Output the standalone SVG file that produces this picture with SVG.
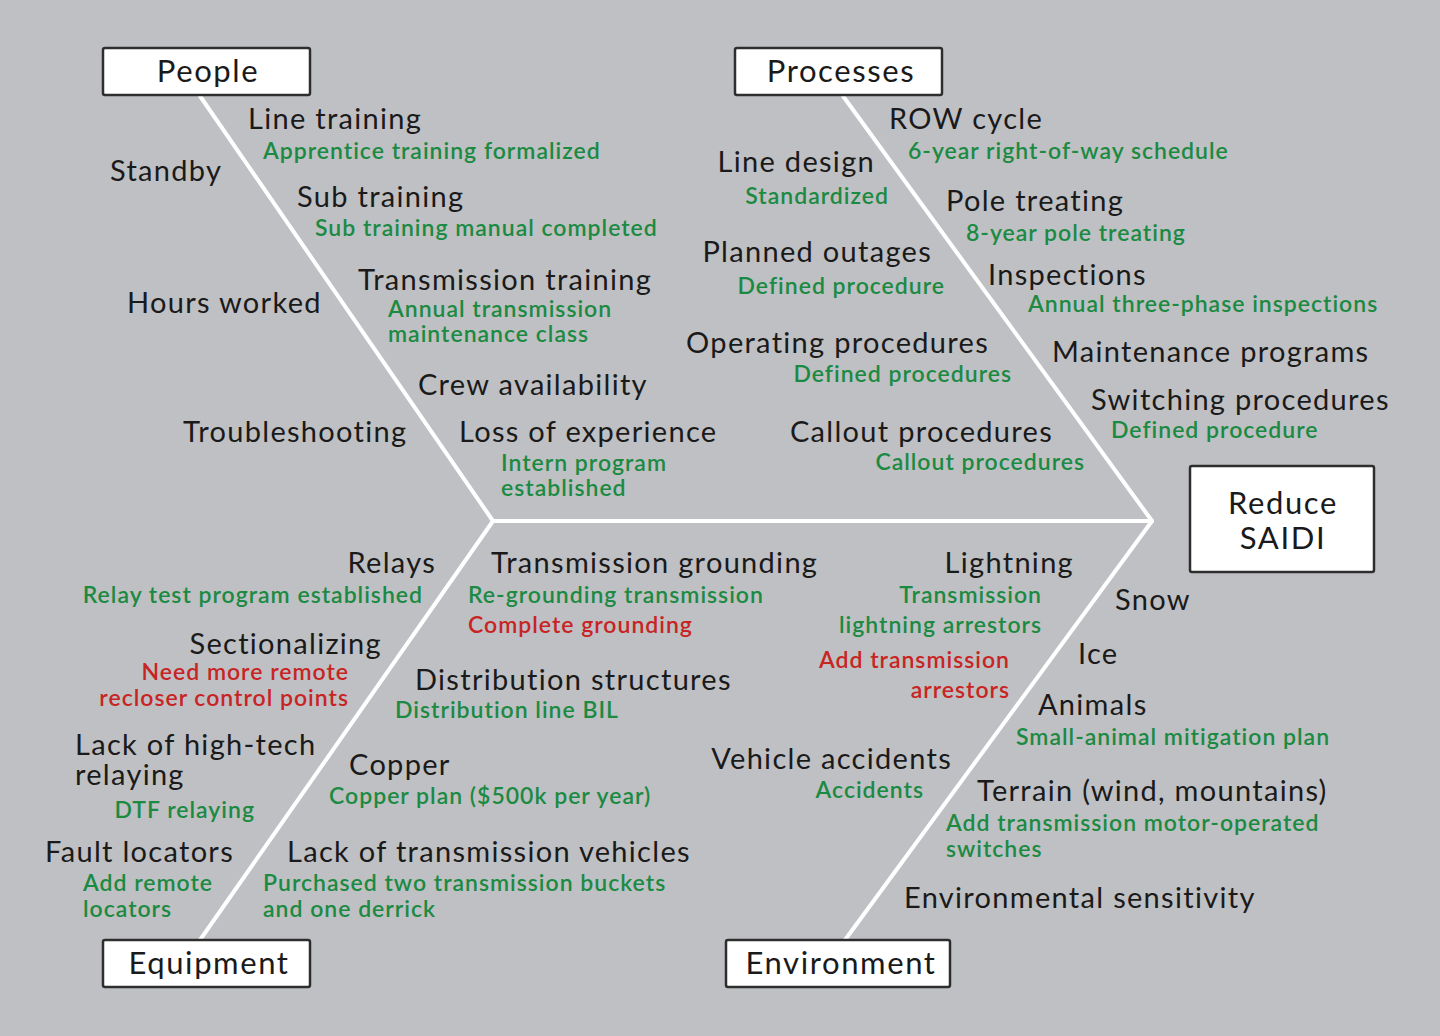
<svg xmlns="http://www.w3.org/2000/svg" width="1440" height="1036" viewBox="0 0 1440 1036">
<style>
.bg{fill:#bfc0c3}
.box{fill:#ffffff;stroke:#2e2e2e;stroke-width:2.5}
.bone{stroke:#ffffff;stroke-width:4;fill:none;stroke-linecap:round}
text{font-family:Lato,"Noto Sans",sans-serif}
.t{font-size:29px;fill:#1a1a1a;letter-spacing:1.3px}
.h{font-size:31px;fill:#1a1a1a;text-anchor:middle;letter-spacing:1.6px}
.g{font-size:23px;fill:#1b8a42;font-weight:600;letter-spacing:1px}
.r{font-size:23px;fill:#c82424;font-weight:600;letter-spacing:1px}
.e{text-anchor:end}
</style>
<rect class="bg" x="0" y="0" width="1440" height="1036"/>
<g id="connectors">
<line class="bone" x1="493" y1="521" x2="1152" y2="521"/>
<line class="bone" x1="200" y1="96" x2="493" y2="521"/>
<line class="bone" x1="843" y1="96" x2="1152" y2="521"/>
<line class="bone" x1="200" y1="940" x2="493" y2="521"/>
<line class="bone" x1="845" y1="940" x2="1152" y2="521"/>
</g>
<g id="people">
<rect class="box" x="103" y="48" width="207" height="47" rx="2"/>
<text class="h" x="208" y="82">People</text>
</g>
<g id="processes">
<rect class="box" x="735" y="48" width="207" height="47" rx="2"/>
<text class="h" x="841" y="82">Processes</text>
</g>
<g id="equipment">
<rect class="box" x="103" y="940" width="207" height="47" rx="2"/>
<text class="h" x="209" y="974">Equipment</text>
</g>
<g id="environment">
<rect class="box" x="726" y="940" width="224" height="47" rx="2"/>
<text class="h" x="841" y="974">Environment</text>
</g>
<g id="reduce-saidi">
<rect class="box" x="1190" y="466" width="184" height="106" rx="2"/>
<text class="h" x="1283" y="514">Reduce</text>
<text class="h" x="1283" y="549">SAIDI</text>
</g>
<g id="people-causes">
<text class="t" x="248" y="129">Line training</text>
<text class="g" x="263" y="159">Apprentice training formalized</text>
<text class="t" x="110" y="181">Standby</text>
<text class="t" x="297" y="207">Sub training</text>
<text class="g" x="315" y="236">Sub training manual completed</text>
<text class="t" x="127" y="313">Hours worked</text>
<text class="t" x="358" y="290">Transmission training</text>
<text class="g" x="388" y="317">Annual transmission</text>
<text class="g" x="388" y="342">maintenance class</text>
<text class="t" x="418" y="395">Crew availability</text>
<text class="t" x="183" y="442">Troubleshooting</text>
<text class="t" x="459" y="442">Loss of experience</text>
<text class="g" x="501" y="471">Intern program</text>
<text class="g" x="501" y="496">established</text>
</g>
<g id="process-causes">
<text class="t" x="889" y="129">ROW cycle</text>
<text class="g" x="908" y="159">6-year right-of-way schedule</text>
<text class="t e" x="875" y="172">Line design</text>
<text class="g e" x="889" y="204">Standardized</text>
<text class="t" x="946" y="211">Pole treating</text>
<text class="g" x="966" y="241">8-year pole treating</text>
<text class="t e" x="932" y="262">Planned outages</text>
<text class="g e" x="945" y="294">Defined procedure</text>
<text class="t" x="988" y="285">Inspections</text>
<text class="g" x="1028" y="312">Annual three-phase inspections</text>
<text class="t e" x="989" y="353">Operating procedures</text>
<text class="g e" x="1012" y="382">Defined procedures</text>
<text class="t" x="1052" y="362">Maintenance programs</text>
<text class="t" x="1091" y="410">Switching procedures</text>
<text class="g" x="1111" y="438">Defined procedure</text>
<text class="t e" x="1053" y="442">Callout procedures</text>
<text class="g e" x="1085" y="470">Callout procedures</text>
</g>
<g id="equipment-causes">
<text class="t e" x="436" y="573">Relays</text>
<text class="g e" x="423" y="603">Relay test program established</text>
<text class="t e" x="382" y="654">Sectionalizing</text>
<text class="r e" x="349" y="680">Need more remote</text>
<text class="r e" x="349" y="706">recloser control points</text>
<text class="t" x="75" y="755">Lack of high-tech</text>
<text class="t" x="75" y="785">relaying</text>
<text class="g e" x="255" y="818">DTF relaying</text>
<text class="t e" x="234" y="862">Fault locators</text>
<text class="g" x="83" y="891">Add remote</text>
<text class="g" x="83" y="917">locators</text>
<text class="t" x="491" y="573">Transmission grounding</text>
<text class="g" x="468" y="603">Re-grounding transmission</text>
<text class="r" x="468" y="633">Complete grounding</text>
<text class="t" x="415" y="690">Distribution structures</text>
<text class="g" x="395" y="718">Distribution line BIL</text>
<text class="t" x="349" y="775">Copper</text>
<text class="g" x="329" y="804">Copper plan ($500k per year)</text>
<text class="t" x="287" y="862">Lack of transmission vehicles</text>
<text class="g" x="263" y="891">Purchased two transmission buckets</text>
<text class="g" x="263" y="917">and one derrick</text>
</g>
<g id="environment-causes">
<text class="t e" x="1074" y="573">Lightning</text>
<text class="g e" x="1042" y="603">Transmission</text>
<text class="g e" x="1042" y="633">lightning arrestors</text>
<text class="r e" x="1010" y="668">Add transmission</text>
<text class="r e" x="1010" y="698">arrestors</text>
<text class="t" x="1115" y="610">Snow</text>
<text class="t" x="1078" y="664">Ice</text>
<text class="t" x="1038" y="715">Animals</text>
<text class="g" x="1016" y="745">Small-animal mitigation plan</text>
<text class="t e" x="952" y="769">Vehicle accidents</text>
<text class="g e" x="924" y="798">Accidents</text>
<text class="t" x="977" y="801">Terrain (wind, mountains)</text>
<text class="g" x="946" y="831">Add transmission motor-operated</text>
<text class="g" x="946" y="857">switches</text>
<text class="t" x="904" y="908">Environmental sensitivity</text>
</g>
</svg>
